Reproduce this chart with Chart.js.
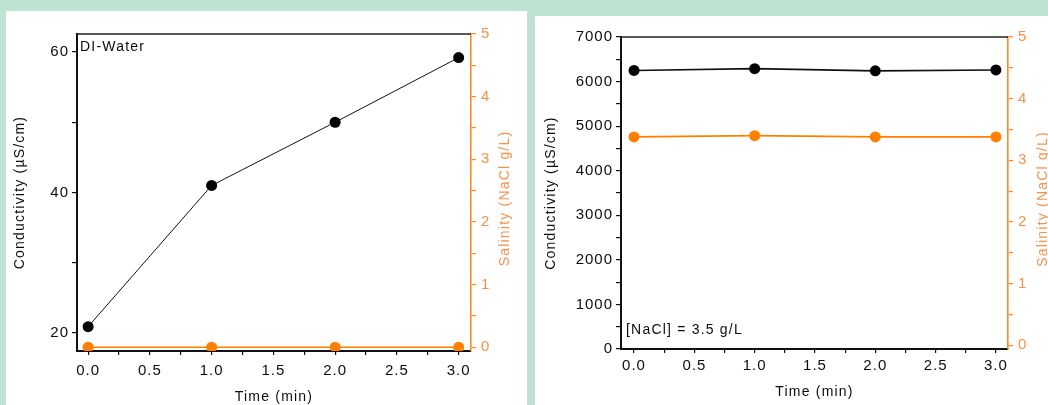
<!DOCTYPE html>
<html>
<head>
<meta charset="utf-8">
<script src="https://cdn.jsdelivr.net/npm/chart.js@4.4.1/dist/chart.umd.min.js"></script>
<style>
  html, body { margin: 0; padding: 0; }
  body { width: 1048px; height: 405px; overflow: hidden; background: #bfe3d3; position: relative; }
  .card { position: absolute; background: #ffffff; }
  #cardA { left: 6px; top: 11px; width: 521px; height: 394px; }
  #cardB { left: 535px; top: 16px; width: 513px; height: 389px; }
  canvas { display: block; }
</style>
</head>
<body>
<div class="card" id="cardA"><canvas id="diChart" width="521" height="394"></canvas></div>
<div class="card" id="cardB"><canvas id="naclChart" width="513" height="389"></canvas></div>
<script>
// Sampling times (min)
const timeMin = [0, 1, 2, 3];

// DI water run
const diConductivity = [20.9, 41.0, 50.0, 59.2];   // µS/cm
const diSalinity = [0, 0, 0, 0];                    // g/L NaCl

// 3.5 g/L NaCl run
const naclConductivity = [6250, 6290, 6240, 6260]; // µS/cm
const naclSalinity = [3.38, 3.40, 3.38, 3.38];     // g/L NaCl

// Tick positions (all tick marks) and the labelled subset
const timeTicks = [0, 0.25, 0.5, 0.75, 1, 1.25, 1.5, 1.75, 2, 2.25, 2.5, 2.75, 3];
const timeLabels = ['0.0', '0.5', '1.0', '1.5', '2.0', '2.5', '3.0'];
const diCondTicks = [20, 30, 40, 50, 60];
const diCondLabels = ['20', '40', '60'];
const naclCondTicks = [0, 500, 1000, 1500, 2000, 2500, 3000, 3500, 4000, 4500, 5000, 5500, 6000, 6500, 7000];
const naclCondLabels = ['0', '1000', '2000', '3000', '4000', '5000', '6000', '7000'];
const salinityTicks = [0, 0.5, 1, 1.5, 2, 2.5, 3, 3.5, 4, 4.5, 5];
const salinityLabels = ['0', '1', '2', '3', '4', '5'];

const FONT = '"Liberation Sans", Arial, sans-serif';
const INK = '#0d0d0d';
const ORANGE = '#ff8000';
const ORANGE_AXIS = '#fb8a24';
const ORANGE_TEXT = '#f5924a';

function labelFor(list) {
  return (v) => list.find(l => Math.abs(parseFloat(l) - v) < 1e-9) || '';
}
function fixedTicks(list) {
  return (scale) => { scale.ticks = list.map(v => ({ value: v })); };
}
function pts(ys) {
  return timeMin.map((t, i) => ({ x: t, y: ys[i] }));
}

// Frame line on top, axis titles, and the in-plot note
const frameText = {
  id: 'frameText',
  beforeDraw(chart) {
    chart.ctx.letterSpacing = '1px';
  },
  afterDraw(chart, args, o) {
    const ctx = chart.ctx, a = chart.chartArea;
    ctx.save();
    ctx.strokeStyle = '#222';
    ctx.lineWidth = 1.6;
    ctx.beginPath();
    ctx.moveTo(a.left, a.top);
    ctx.lineTo(a.right, a.top);
    ctx.stroke();

    ctx.letterSpacing = '1.2px';
    ctx.font = '14px ' + FONT;
    ctx.textAlign = 'center';
    ctx.textBaseline = 'middle';
    const midY = (a.top + a.bottom) / 2;

    ctx.fillStyle = INK;
    ctx.fillText(o.xTitle, (a.left + a.right) / 2, o.xTitleY);

    ctx.save();
    ctx.translate(o.yTitleX, midY);
    ctx.rotate(-Math.PI / 2);
    ctx.fillText(o.yTitle, 0, 0);
    ctx.restore();

    ctx.fillStyle = ORANGE_TEXT;
    ctx.save();
    ctx.translate(o.y1TitleX, midY + 6);
    ctx.rotate(-Math.PI / 2);
    ctx.fillText(o.y1Title, 0, 0);
    ctx.restore();

    ctx.fillStyle = INK;
    ctx.textAlign = 'left';
    ctx.fillText(o.note, a.left + o.noteDx, o.noteFromTop ? a.top + o.noteDy : a.bottom - o.noteDy);
    ctx.restore();
  }
};

function build(canvasId, cfg) {
  const tickFont = { family: FONT, size: 15 };
  return new Chart(document.getElementById(canvasId), {
    type: 'line',
    data: {
      datasets: [
        {
          data: pts(cfg.cond), yAxisID: 'y',
          borderColor: '#111', borderWidth: cfg.lineW,
          pointRadius: 5.5, pointHoverRadius: 5.5, pointBorderWidth: 0,
          pointBackgroundColor: '#000', tension: 0, clip: 0
        },
        {
          data: pts(cfg.sal), yAxisID: 'y1',
          borderColor: ORANGE, borderWidth: 1.6,
          pointRadius: 5.5, pointHoverRadius: 5.5, pointBorderWidth: 0,
          pointBackgroundColor: ORANGE, tension: 0, clip: 0
        }
      ]
    },
    options: {
      responsive: false,
      animation: false,
      devicePixelRatio: 1,
      events: [],
      layout: { autoPadding: false, padding: { top: cfg.padTop, left: 0, right: 0, bottom: 0 } },
      plugins: {
        legend: { display: false },
        tooltip: { enabled: false },
        frameText: cfg.text
      },
      scales: {
        x: {
          type: 'linear', position: 'bottom', min: cfg.xMin, max: 3.1,
          afterBuildTicks: fixedTicks(timeTicks),
          afterFit: (s) => { s.height = cfg.xH; },
          ticks: { autoSkip: false, maxRotation: 0, minRotation: 0, color: INK, font: tickFont, padding: cfg.xPad, callback: labelFor(timeLabels) },
          grid: { drawOnChartArea: false, drawTicks: true, tickLength: 4, color: '#111', lineWidth: 1.2 },
          border: { display: true, color: '#111', width: 2 }
        },
        y: {
          type: 'linear', position: 'left', min: cfg.yMin, max: cfg.yMax,
          afterBuildTicks: fixedTicks(cfg.yTicks),
          afterFit: (s) => { s.width = cfg.yW; },
          ticks: { autoSkip: false, color: INK, font: tickFont, padding: 3, callback: labelFor(cfg.yLabels) },
          grid: { drawOnChartArea: false, drawTicks: true, tickLength: 5, color: '#111', lineWidth: 1.2 },
          border: { display: true, color: '#111', width: 2 }
        },
        y1: {
          type: 'linear', position: 'right', min: -0.06, max: 5,
          afterBuildTicks: fixedTicks(salinityTicks),
          afterFit: (s) => { s.width = cfg.y1W; },
          ticks: { autoSkip: false, color: ORANGE_TEXT, font: tickFont, padding: 5, callback: labelFor(salinityLabels) },
          grid: { drawOnChartArea: false, drawTicks: true, tickLength: 5, color: ORANGE_AXIS, lineWidth: 1.2 },
          border: { display: true, color: ORANGE_AXIS, width: 1.6 }
        }
      }
    },
    plugins: [frameText]
  });
}

build('diChart', {
  cond: diConductivity, sal: diSalinity, lineW: 1,
  padTop: 23, xH: 54, yW: 71, y1W: 56, xMin: -0.09, xPad: 7,
  yMin: 17.44, yMax: 62.56, yTicks: diCondTicks, yLabels: diCondLabels,
  text: {
    xTitle: 'Time (min)', xTitleY: 386,
    yTitle: 'Conductivity (\u00b5S/cm)', yTitleX: 14,
    y1Title: 'Salinity (NaCl g/L)', y1TitleX: 499,
    note: 'DI-Water', noteDx: 3, noteDy: 13, noteFromTop: true
  }
});

build('naclChart', {
  cond: naclConductivity, sal: naclSalinity, lineW: 1.6,
  padTop: 21, xH: 56, yW: 86, y1W: 40, xMin: -0.108, xPad: 4,
  yMin: 0, yMax: 7000, yTicks: naclCondTicks, yLabels: naclCondLabels,
  text: {
    xTitle: 'Time (min)', xTitleY: 376,
    yTitle: 'Conductivity (\u00b5S/cm)', yTitleX: 16,
    y1Title: 'Salinity (NaCl g/L)', y1TitleX: 508,
    note: '[NaCl] = 3.5 g/L', noteDx: 5, noteDy: 19, noteFromTop: false
  }
});
</script>
</body>
</html>
